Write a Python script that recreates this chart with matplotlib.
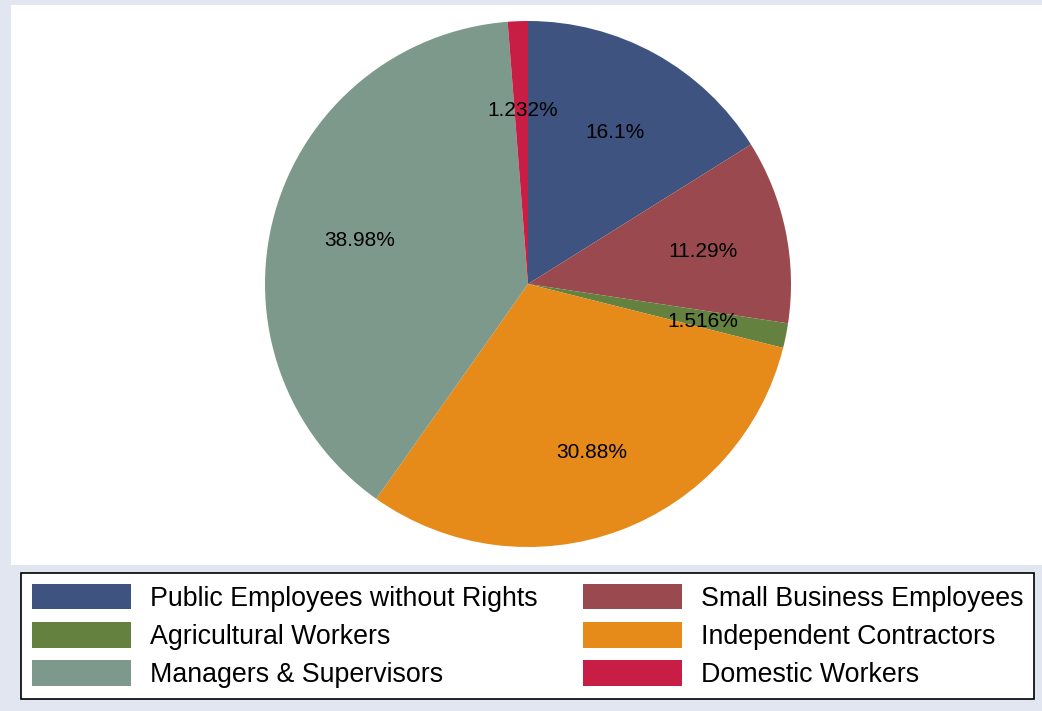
import matplotlib
matplotlib.use('Agg')
from matplotlib import pyplot as plt
from matplotlib.patches import Rectangle
from matplotlib.transforms import offset_copy

plt.rcParams['font.family'] = ['Liberation Sans', 'DejaVu Sans']

categories = ['Public Employees without Rights', 'Small Business Employees',
              'Agricultural Workers', 'Independent Contractors',
              'Managers & Supervisors', 'Domestic Workers']
shares = [16.1, 11.29, 1.516, 30.88, 38.98, 1.232]
pct_labels = ['16.1%', '11.29%', '1.516%', '30.88%', '38.98%', '1.232%']
colors = ['#3e537f', '#9a4a4f', '#64813f', '#e68a1a', '#7c998c', '#c81e46']

W, H = 1042, 711
fig = plt.figure(figsize=(W / 100, H / 100), dpi=100)
fig.patch.set_facecolor('#e2e6f1')

# white plot region
fig.patches.append(Rectangle((11 / W, 1 - 565 / H), 1 - 11 / W, (565 - 5) / H,
                             transform=fig.transFigure, facecolor='white',
                             edgecolor='none', zorder=-5))

# pie axes: center (528, 284), radius ~263 px
r = 263
ax = fig.add_axes([(528 - r) / W, 1 - (284 + r) / H, 2 * r / W, 2 * r / H])
ax.set_zorder(2)
wedges, texts, autotexts = ax.pie(shares, colors=colors, startangle=90,
                                  counterclock=False, labels=None,
                                  autopct='%1.1f', pctdistance=0.67,
                                  wedgeprops=dict(linewidth=0))
shift = offset_copy(ax.transData, fig=fig, x=2, y=-3, units='dots')
for t, lab in zip(autotexts, pct_labels):
    t.set_text(lab)
    t.set_fontsize(15)
    t.set_color('black')
    t.set_transform(shift)
ax.set_xlim(-1, 1)
ax.set_ylim(-1, 1)
ax.set_aspect('equal')
ax.axis('off')

# legend (row-major order in picture -> column-major for matplotlib)
order = [0, 2, 4, 1, 3, 5]
leg = fig.legend([wedges[i] for i in order], [categories[i] for i in order],
                 ncol=2, loc='upper left',
                 bbox_to_anchor=(21 / W, 1 - 573 / H),
                 fontsize=19.3, frameon=True, fancybox=False,
                 edgecolor='black', facecolor='white', framealpha=1,
                 handlelength=3.7, handleheight=1.1,
                 handletextpad=0.7, labelspacing=0.38, borderaxespad=0,
                 borderpad=0.4, columnspacing=1.7)
leg.get_frame().set_linewidth(1.2)
leg.set_zorder(3)

fig.savefig('out.png', dpi=100, facecolor=fig.get_facecolor())
